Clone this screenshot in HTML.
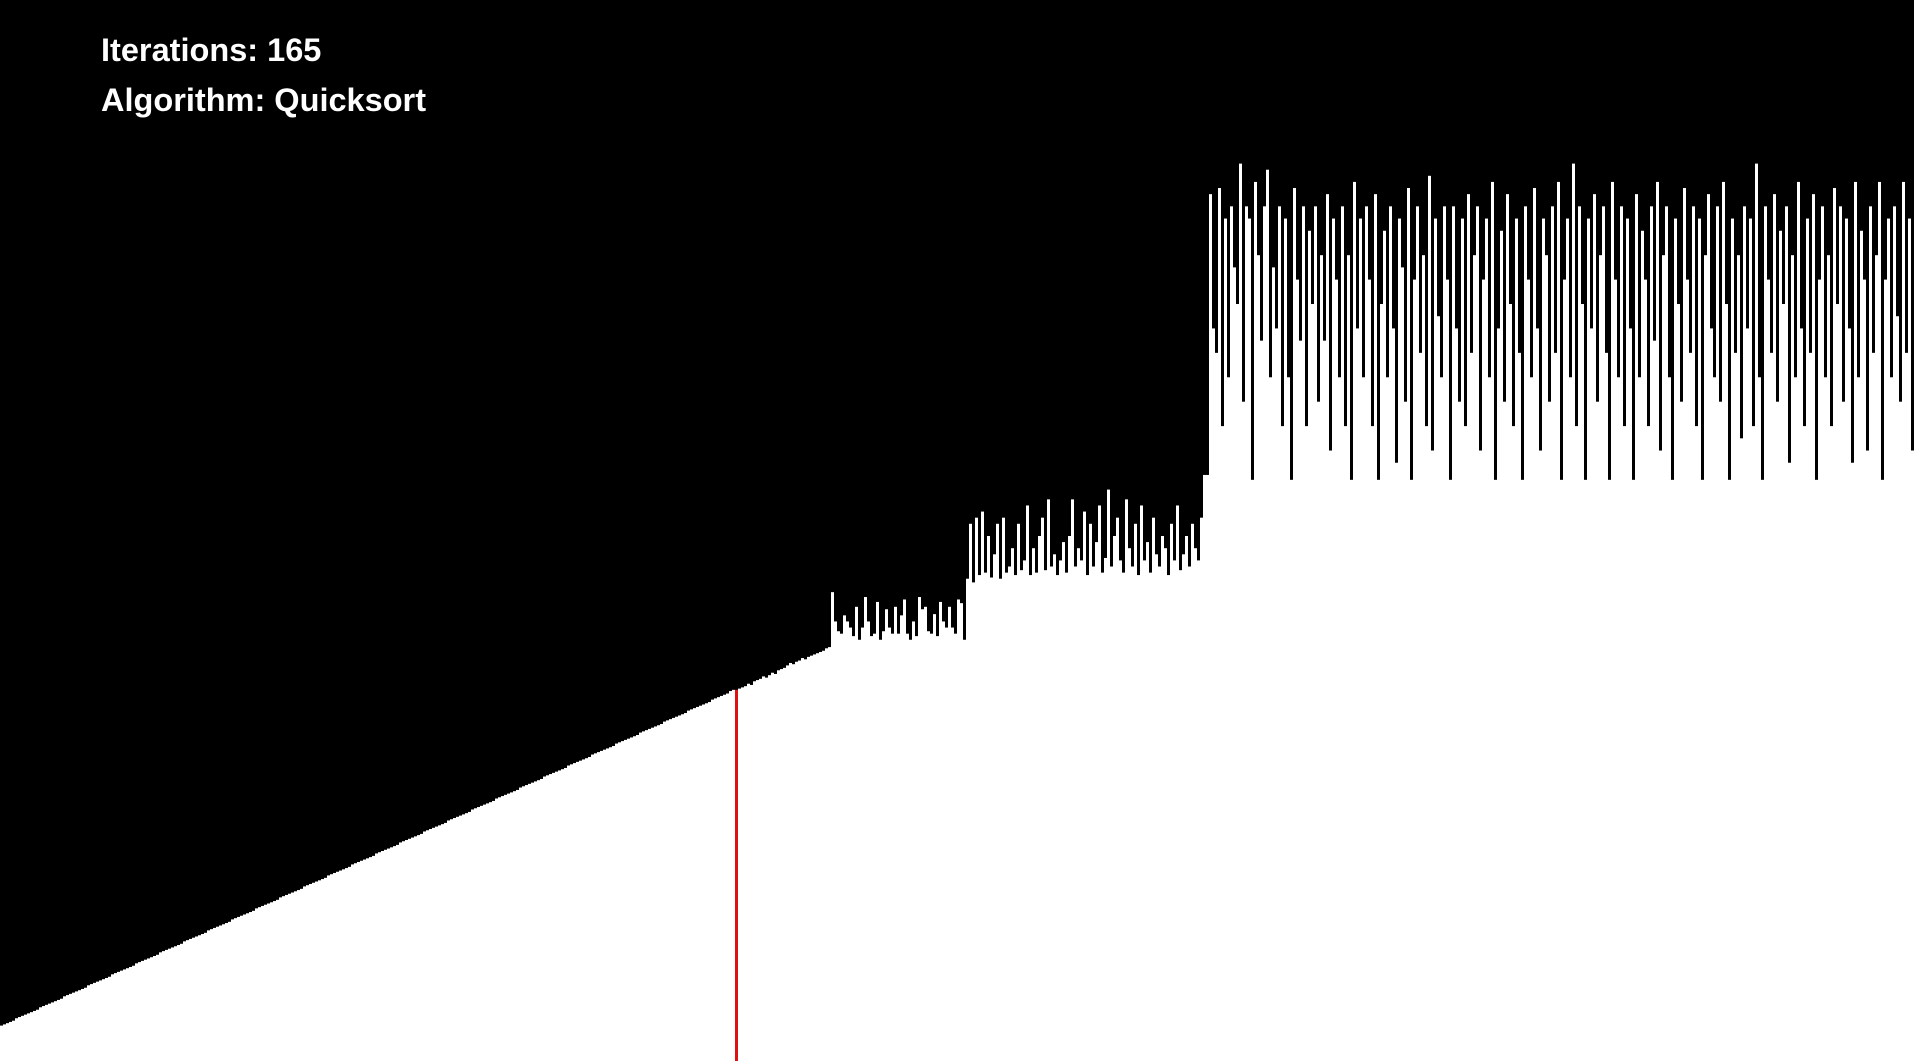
<!DOCTYPE html>
<html><head><meta charset="utf-8"><style>
html,body{margin:0;padding:0;background:#000;width:1914px;height:1061px;overflow:hidden}
svg{display:block}
.lbl{font-family:"Liberation Sans",sans-serif;font-weight:bold;font-size:32.5px;fill:#fff}
</style></head><body>
<svg id="chart" width="1914" height="1061" viewBox="0 0 1914 1061">
<rect x="0" y="0" width="1914" height="1061" fill="#000"/>
<g id="bars"></g>
<text class="lbl" x="101" y="61">Iterations: 165</text>
<text class="lbl" x="101" y="111">Algorithm: Quicksort</text>
</svg>
<script>
const sortedPart = [29,30,31,32,33,35,36,37,38,39,40,41,42,44,45,46,47,48,49,50,51,53,54,55,56,57,58,59,60,62,63,64,65,66,67,68,69,71,72,73,74,75,76,77,78,80,81,82,83,84,85,86,87,89,90,91,92,93,94,95,96,98,99,100,101,102,103,104,105,107,108,109,110,111,112,113,114,116,117,118,119,120,121,122,123,125,126,127,128,129,130,131,132,134,135,136,137,138,139,140,141,143,144,145,146,147,148,149,150,152,153,154,155,156,157,158,159,161,162,163,164,165,166,167,168,170,171,172,173,174,175,176,177,179,180,181,182,183,184,185,186,188,189,190,191,192,193,194,195,197,198,199,200,201,202,203,204,206,207,208,209,210,211,212,213,215,216,217,218,219,220,221,222,224,225,226,227,228,229,230,231,233,234,235,236,237,238,239,240,242,243,244,245,246,247,248,249,251,252,253,254,255,256,257,258,260,261,262,263,264,265,266,267,269,270,271,272,273,274,275,276,278,279,280,281,282,283,284,285,287,288,289,290,291,292,293,294,296,297,298,299,300,301,303,304];
const pivotValue = [304];
const partA = [305,306,307,309,308,311,312,313,315,314,316,318,317,320,321,322,324,326,325,327,328,330,329,331,332,333,334,335,336,338,339];
const partB = [384,360,352,350,365,360,355,348,372,345,355,380,360,348,350,376,345,352,370,355,350,372,350,365,378,350,345,360,348,380,370,372,352,350,366,348,376,360,355,372,355,350,378,375,345];
const partC = [395,440,392,445,398,450,400,430,396,415,440,395,445,400,405,420,398,440,402,410,455,398,420,400,430,445,402,460,405,415,398,410,425,400,430,460,405,420,410,450,398,440,405,425,455,400,412,468,405,430,445,410,400,460,420,405,440,398,455,410,425,400,445,415,405,430,420,398,440,410,455,402,415,430,405,440,420,410,445,480];
const unsortedPart = [480,710,600,580,715,520,690,560,700,650,620,735,540,700,690,476,720,660,590,700,730,560,650,600,700,520,690,560,476,715,640,590,700,520,680,620,700,540,660,590,710,500,690,640,560,700,520,660,476,720,600,690,560,700,640,520,710,476,620,680,560,700,600,490,690,650,540,715,476,640,700,580,660,520,725,500,690,610,560,700,640,476,700,600,540,690,520,710,580,660,700,500,640,690,560,720,476,600,680,540,710,620,520,690,580,476,700,640,560,715,600,500,690,660,540,700,580,720,476,640,690,560,735,520,700,620,476,690,600,710,540,660,700,580,476,720,640,560,700,520,690,600,476,710,560,680,640,520,700,590,720,500,660,700,560,476,690,620,540,715,640,580,700,520,690,476,660,710,600,560,700,540,720,620,476,690,580,660,510,700,600,690,520,735,560,476,700,640,580,710,540,680,620,700,490,660,560,720,600,520,690,580,710,476,640,700,560,660,520,715,620,700,540,690,600,490,720,560,680,640,500,700,580,660,720,476,640,690,560,700,610,540,720,580,690,500,660,700,520,680];

const H = 1061, BAR_W = 3, Y_SCALE = 1061/869;
const xPos = i => i * BAR_W;
const yPos = v => H - v * Y_SCALE;
const g = document.getElementById('bars');
const all = [];
sortedPart.forEach(v => all.push({v, c:'#fff'}));
pivotValue.forEach(v => all.push({v, c:'#dd1111', pivot:true}));
partA.forEach(v => all.push({v, c:'#fff'}));
partB.forEach(v => all.push({v, c:'#fff'}));
partC.forEach(v => all.push({v, c:'#fff'}));
unsortedPart.forEach(v => all.push({v, c:'#fff'}));
all.forEach((d, i) => {
  const r = document.createElementNS('http://www.w3.org/2000/svg', 'rect');
  const x = xPos(i), y = yPos(d.v);
  r.setAttribute('x', x);
  r.setAttribute('width', BAR_W);
  r.setAttribute('y', y);
  r.setAttribute('height', H - y);
  r.setAttribute('fill', d.c);
  
  
  g.appendChild(r);
});
</script>
</body></html>
